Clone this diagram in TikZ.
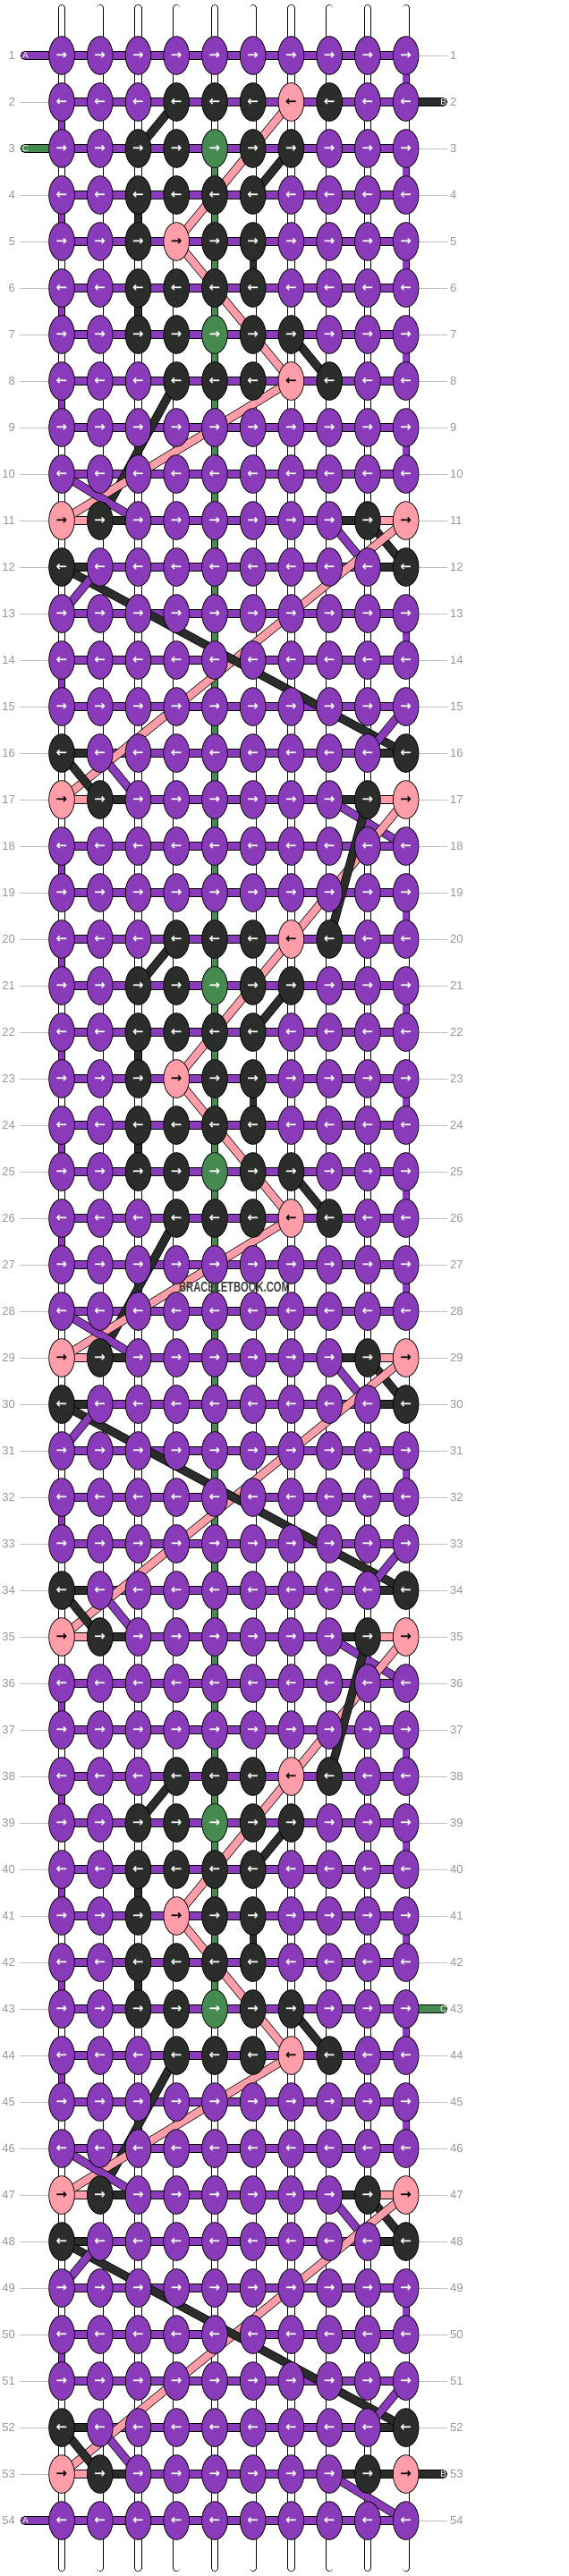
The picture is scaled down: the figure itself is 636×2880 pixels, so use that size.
\documentclass[tikz,border=0pt]{standalone}
\usepackage{fontspec}
\setmainfont{Liberation Sans}
\newfontfamily\arrowfont{DejaVu Sans}
\usetikzlibrary{shapes.geometric, backgrounds}
\definecolor{tP}{RGB}{137,59,185}
\definecolor{tK}{RGB}{43,45,43}
\definecolor{tR}{RGB}{255,158,168}
\definecolor{tG}{RGB}{69,139,79}
\colorlet{aP}{white}
\colorlet{aK}{white}
\colorlet{aG}{white}
\colorlet{aR}{black}
\definecolor{numgray}{RGB}{150,150,150}
\definecolor{linegray}{RGB}{190,190,190}
\definecolor{markgray}{RGB}{60,60,60}
\tikzstyle{knot} = [ellipse, draw=black, line width=0.8pt, minimum width=28.7pt, minimum height=42.7pt, inner sep=0pt, font=\arrowfont\bfseries\fontsize{15}{15}\selectfont]
\tikzstyle{warp} = [draw=black, line width=0.75pt, double=white, double distance=6.8pt, line cap=round]
\tikzstyle{vthread} = [draw=black, line width=0.75pt, double distance=6.8pt]
\tikzstyle{hthread} = [draw=black, line width=0.75pt, double distance=8.8pt]
\tikzstyle{diag} = [draw=black, line width=0.75pt, double distance=8pt]
\tikzstyle{endthread} = [draw=black, line width=0.75pt, double distance=8.8pt, line cap=round]
\tikzstyle{rowline} = [draw=linegray, line width=0.7pt]
\tikzstyle{rownum} = [text=numgray, inner sep=0pt, font=\fontsize{13}{13}\selectfont]
\tikzstyle{endlabel} = [text=white, inner sep=0pt, font=\fontsize{10}{10}\selectfont]

% knot colours, one line per row of the 18-row repeat
\newcommand\knotrow[1]{\ifcase#1 \or
  P,P,P,P,P,P,P,P,P,P\or
  P,P,P,K,K,K,R,K,P,P\or
  P,P,K,K,G,K,K,P,P,P\or
  P,P,K,K,K,K,P,P,P,P\or
  P,P,K,R,K,K,P,P,P,P\or
  P,P,K,K,K,K,P,P,P,P\or
  P,P,K,K,G,K,K,P,P,P\or
  P,P,P,K,K,K,R,K,P,P\or
  P,P,P,P,P,P,P,P,P,P\or
  P,P,P,P,P,P,P,P,P,P\or
  R,K,P,P,P,P,P,P,K,R\or
  K,P,P,P,P,P,P,P,P,K\or
  P,P,P,P,P,P,P,P,P,P\or
  P,P,P,P,P,P,P,P,P,P\or
  P,P,P,P,P,P,P,P,P,P\or
  K,P,P,P,P,P,P,P,P,K\or
  R,K,P,P,P,P,P,P,K,R\or
  P,P,P,P,P,P,P,P,P,P\fi}
% bar colours between the knots of a row
\newcommand\barrow[1]{\ifnum#1=11 R,K,P,P,P,P,P,K,R\else
  \ifnum#1=17 R,K,P,P,P,P,P,K,R\else
  \ifnum#1=12 K,P,P,P,P,P,P,P,K\else
  \ifnum#1=16 K,P,P,P,P,P,P,P,K\else
  P,P,P,P,P,P,P,P,P\fi\fi\fi\fi}

\begin{document}
\begin{tikzpicture}[x=1pt, y=-1pt]
        \useasboundingbox (0,0) rectangle (636,2880);

        % knots
        \foreach \rr in {1,...,54} {
            \pgfmathtruncatemacro\kk{mod(\rr-1,18)+1}
            \edef\pat{\knotrow{\kk}}
            \foreach \cl [count=\cc] in \pat {
                \node (k\rr-\cc) [knot, fill=t\cl, text=a\cl] at ({69+42.74*(\cc-1)},{62+52*(\rr-1)}) {\ifodd\rr\relax →\else ←\fi};
            }
            \node (ln\rr) [rownum, anchor=east] at (17,{62+52*(\rr-1)}) {\rr};
            \node (rn\rr) [rownum, anchor=west] at (503,{62+52*(\rr-1)}) {\rr};
            \coordinate (gl\rr) at (21.7,{62+52*(\rr-1)});
            \coordinate (gr\rr) at (500,{62+52*(\rr-1)});
        }

        \node (mark) [text=markgray, font=\bfseries\fontsize{16}{16}\selectfont, xscale=0.7] at (262,1439) {BRACELETBOOK.COM};

        \begin{pgfonlayer}{background}
        \fill[white] (0,0) rectangle (636,2880);

        % warp strings
        \foreach \cc in {1,...,10} {
            \coordinate (top\cc) at ({69+42.74*(\cc-1)},9);
            \coordinate (bot\cc) at ({69+42.74*(\cc-1)},2871);
            \draw [warp] (top\cc) -- (bot\cc);
        }

        % threads carried down
        \foreach \rr in {1,3,5,7,9,13,19,21,23,25,27,31,37,39,41,43,45,49} {
            \pgfmathtruncatemacro\ss{\rr+1}
            \draw [vthread, double=tP] (k\rr-10.center) -- (k\ss-10.center);
        }
        \foreach \rr in {2,4,6,8,14,18,20,22,24,26,32,36,38,40,42,44,50} {
            \pgfmathtruncatemacro\ss{\rr+1}
            \draw [vthread, double=tP] (k\rr-1.center) -- (k\ss-1.center);
        }
        \foreach \rr in {3,...,42} {
            \pgfmathtruncatemacro\ss{\rr+1}
            \draw [vthread, double=tG] (k\rr-5.center) -- (k\ss-5.center);
        }
        \foreach \rr/\cc in {4/3,5/6,6/3,22/3,23/6,24/3,40/3,41/6,42/3} {
            \pgfmathtruncatemacro\ss{\rr+1}
            \draw [vthread, double=tK] (k\rr-\cc.center) -- (k\ss-\cc.center);
        }

        % bars along the rows
        \foreach \rr in {1,...,54} {
            \pgfmathtruncatemacro\kk{mod(\rr-1,18)+1}
            \edef\hpat{\barrow{\kk}}
            \foreach \cl [count=\cc] in \hpat {
                \pgfmathtruncatemacro\dd{\cc+1}
                \draw [hthread, double=t\cl] (k\rr-\cc.center) -- (k\rr-\dd.center);
            }
            \draw [rowline] (gl\rr) -- (k\rr-1);
            \draw [rowline] (gr\rr) -- (k\rr-10);
        }
        \draw [hthread, double=tK] (k53-9.center) -- (k53-10.center);

        % diagonals
        \foreach \base in {0,18,36} {
            \foreach \cl/\ra/\ca/\rb/\cb in {K/2/4/3/3, R/2/7/5/4, K/3/7/4/6, R/5/4/8/7, K/7/7/8/8,
                K/8/4/11/2, R/8/7/11/1, P/10/1/11/3, P/11/8/12/9, K/11/9/12/10, R/11/10/17/1,
                K/12/1/16/10, P/12/2/13/1, P/15/10/16/9, K/16/1/17/2, P/16/2/17/3, P/17/8/18/10} {
                \pgfmathtruncatemacro\ya{\ra+\base}
                \pgfmathtruncatemacro\yb{\rb+\base}
                \draw [diag, double=t\cl] (k\ya-\ca.center) -- (k\yb-\cb.center);
            }
        }
        \foreach \base in {0,18} {
            \pgfmathtruncatemacro\ya{17+\base}
            \pgfmathtruncatemacro\yb{20+\base}
            \draw [diag, double=tR] (k\ya-10.center) -- (k\yb-7.center);
            \draw [diag, double=tK] (k\ya-9.center) -- (k\yb-8.center);
        }

        % loose ends
        \foreach \rr/\cl/\lab in {1/P/A, 3/G/C, 54/P/A} {
            \coordinate (le\rr) at (27.9,{62+52*(\rr-1)});
            \draw [endthread, double=t\cl] (le\rr) -- (k\rr-1.center);
        }
        \foreach \rr/\cl/\lab in {2/K/B, 43/G/C, 53/K/B} {
            \coordinate (re\rr) at (494.9,{62+52*(\rr-1)});
            \draw [endthread, double=t\cl] (re\rr) -- (k\rr-10.center);
        }
        \end{pgfonlayer}

        \foreach \rr/\lab in {1/A, 3/C, 54/A} {
            \node (ll\rr) [endlabel] at (28.5,{62+52*(\rr-1)}) {\lab};
        }
        \foreach \rr/\lab in {2/B, 43/C, 53/B} {
            \node (rl\rr) [endlabel] at (495.7,{62+52*(\rr-1)}) {\lab};
        }

\end{tikzpicture}
\end{document}
